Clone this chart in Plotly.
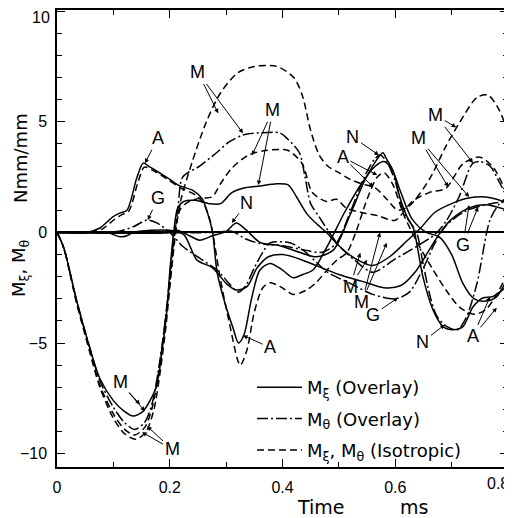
import plotly.graph_objects as go

# ---------------- data (time in ms, moment in Nmm/mm) ----------------
M_sol_t = [0, 0.012, 0.035, 0.058, 0.076, 0.1, 0.12, 0.135, 0.152, 0.165, 0.177, 0.188, 0.195, 0.2, 0.207,
           0.214, 0.225, 0.245, 0.27, 0.29, 0.31, 0.33, 0.36, 0.39, 0.41, 0.425, 0.443, 0.46, 0.478, 0.5,
           0.53, 0.56, 0.59, 0.62, 0.645, 0.67, 0.7, 0.73, 0.76, 0.78, 0.8]
M_sol_y = [0, -0.7, -3.1, -5.2, -6.6, -7.6, -8.1, -8.3, -8.1, -7.6, -6.9, -5.0, -3.5, -1.8, 0,
           1.1, 1.4, 1.45, 1.3, 1.3, 1.8, 2.0, 2.1, 2.2, 2.15, 1.6, 0.85, 0.4, 0, -0.6,
           -1.2, -1.5, -1.1, -0.4, 0.2, 0.9, 1.3, 1.55, 1.6, 1.5, 1.3]

M_dd_t = [0, 0.012, 0.035, 0.058, 0.076, 0.1, 0.12, 0.138, 0.155, 0.168, 0.18, 0.19, 0.197, 0.203, 0.209,
          0.215, 0.223, 0.253, 0.283, 0.306, 0.33, 0.36, 0.395, 0.41, 0.43, 0.44, 0.45, 0.465, 0.483, 0.5,
          0.53, 0.56, 0.6, 0.64, 0.67, 0.69, 0.713, 0.737, 0.75, 0.768, 0.786, 0.8]
M_dd_y = [0, -0.7, -3.1, -5.2, -6.7, -7.9, -8.6, -8.9, -8.6, -7.8, -6.2, -4.4, -2.8, -1.2, 0,
          1.2, 2.5, 3.0, 3.6, 4.1, 4.4, 4.5, 4.5, 4.2, 3.6, 2.5, 1.3, 0.7, 0, -0.6,
          -1.3, -1.8, -1.2, -0.6, -0.1, 0.5, 1.6, 3.1, 3.2, 3.0, 2.2, 1.5]

M_iso1_t = [0, 0.012, 0.035, 0.058, 0.076, 0.1, 0.12, 0.14, 0.158, 0.172, 0.183, 0.193, 0.2, 0.206, 0.212,
            0.22, 0.24, 0.265, 0.29, 0.32, 0.35, 0.39, 0.42, 0.435, 0.45, 0.465, 0.48, 0.5, 0.52, 0.54,
            0.565, 0.585, 0.605, 0.625, 0.645, 0.665, 0.69, 0.715, 0.745, 0.765, 0.785, 0.8]
M_iso1_y = [0, -0.7, -3.2, -5.4, -7.0, -8.4, -9.1, -9.35, -9.0, -8.0, -6.3, -4.3, -2.5, -1.0, 0.3,
            1.5, 3.2, 5.0, 6.3, 7.2, 7.5, 7.5, 7.0, 6.2, 4.6, 3.5, 3.0, 2.7, 2.4, 2.2,
            2.0, 1.5, 1.0, 1.2, 1.8, 2.6, 3.9, 5.0, 6.1, 6.2, 5.5, 4.5]

M_iso2_t = [0, 0.012, 0.035, 0.058, 0.076, 0.1, 0.12, 0.138, 0.156, 0.17, 0.182, 0.192, 0.2, 0.206, 0.212,
            0.22, 0.235, 0.255, 0.275, 0.29, 0.31, 0.34, 0.37, 0.41, 0.435, 0.453, 0.478, 0.496, 0.513, 0.54,
            0.57, 0.6, 0.63, 0.66, 0.69, 0.72, 0.75, 0.775, 0.8]
M_iso2_y = [0, -0.7, -3.2, -5.3, -6.9, -8.2, -8.9, -9.15, -8.8, -7.8, -6.0, -4.0, -2.3, -0.8, 0.5,
            1.1, 1.4, 1.55, 1.6, 2.2, 2.9, 3.5, 3.7, 3.7, 3.1, 1.8, 1.4, 1.5, 1.1, 0.9,
            0.75, 0.55, 1.4, 1.8, 2.0, 3.1, 3.4, 2.9, 1.6]

A_sol_t = [0, 0.053, 0.076, 0.099, 0.112, 0.124, 0.142, 0.153, 0.165, 0.183, 0.2, 0.218, 0.241, 0.258, 0.268,
           0.276, 0.284, 0.298, 0.312, 0.322, 0.332, 0.345, 0.36, 0.378, 0.4, 0.419, 0.436, 0.454, 0.48, 0.51,
           0.54, 0.565, 0.58, 0.595, 0.61, 0.63, 0.655, 0.678, 0.7, 0.72, 0.74, 0.76, 0.78, 0.8]
A_sol_y = [0, 0, 0.2, 0.7, 0.88, 1.0, 2.5, 3.13, 2.95, 2.68, 2.4, 2.1, 1.9, 1.5, 0.8,
           0, -1.8, -3.2, -4.3, -5.0, -4.6, -3.0, -1.7, -1.4, -1.7, -2.05, -1.9, -1.7, -0.6, 0.9,
           2.2, 3.0, 3.2, 2.8, 1.8, 0.6, 0.0, -0.2, -1.0, -2.3, -3.0, -3.1, -2.9, -2.0]

A_iso_t = [0, 0.055, 0.08, 0.1, 0.115, 0.127, 0.144, 0.155, 0.17, 0.19, 0.22, 0.245, 0.26, 0.272, 0.28,
           0.289, 0.305, 0.325, 0.337, 0.35, 0.365, 0.378, 0.396, 0.419, 0.443, 0.461, 0.479, 0.497, 0.514, 0.53,
           0.55, 0.568, 0.58, 0.595, 0.615, 0.64, 0.665, 0.69, 0.715, 0.74, 0.76, 0.78, 0.8]
A_iso_y = [0, 0, 0.15, 0.55, 0.8, 0.95, 2.3, 2.95, 2.8, 2.5, 2.0, 1.7, 1.3, 0.5, -0.6,
           -2.0, -4.0, -6.0, -5.3, -3.6, -2.5, -2.27, -2.45, -2.8, -2.6, -2.23, -1.7, -1.24, -0.92, 0,
           1.5, 2.5, 2.7, 2.2, 0.8, -0.5, -1.6, -2.6, -3.4, -3.7, -3.5, -2.8, -1.8]

G_dd_t = [0, 0.07, 0.09, 0.11, 0.135, 0.16, 0.177, 0.2, 0.224, 0.255, 0.284, 0.305, 0.322, 0.335, 0.35,
          0.365, 0.378, 0.413, 0.436, 0.461, 0.48, 0.52, 0.56, 0.6, 0.625, 0.65, 0.67, 0.69, 0.72, 0.745,
          0.77, 0.8]
G_dd_y = [0, 0, 0, 0.05, 0.25, 0.56, 0.43, 0, -0.65, -1.2, -1.7, -2.3, -2.7, -2.4, -1.6,
          -0.9, -0.47, -0.47, -0.79, -1.37, -1.8, -2.3, -2.8, -3.0, -2.7, -1.6, -0.5, 0.3, 0.9, 1.15,
          1.3, 1.4]

G_sol_t = [0, 0.09, 0.1, 0.112, 0.124, 0.135, 0.2, 0.225, 0.248, 0.276, 0.3, 0.318, 0.337, 0.355, 0.375,
           0.4, 0.43, 0.46, 0.5, 0.54, 0.58, 0.61, 0.635, 0.66, 0.68, 0.7, 0.73, 0.76, 0.8]
G_sol_y = [0, 0, -0.1, -0.2, -0.15, 0, 0.1, -0.1, -1.24, -1.6, -2.3, -2.6, -2.45, -1.6, -1.1,
           -1.0, -1.2, -1.5, -1.9, -2.2, -2.5, -2.4, -1.8, -0.8, 0, 0.6, 1.1, 1.25, 1.0]

N_sol_t = [0, 0.2, 0.213, 0.235, 0.253, 0.276, 0.3, 0.318, 0.336, 0.36, 0.395, 0.43, 0.46, 0.49, 0.52,
           0.545, 0.565, 0.578, 0.585, 0.596, 0.608, 0.621, 0.632, 0.649, 0.667, 0.685, 0.702, 0.72, 0.738, 0.756,
           0.773, 0.8]
N_sol_y = [0, 0, 0.1, -0.15, -0.35, -0.15, 0.05, 0.42, 0.1, -0.45, -0.6, -0.9, -1.1, -0.8, 0.8,
           2.3, 3.2, 3.6, 3.3, 2.8, 1.6, 0.7, 0.2, -2.0, -3.5, -4.26, -4.4, -4.26, -3.36, -2.95,
           -2.9, -2.4]

N_dd_t = [0, 0.28, 0.31, 0.335, 0.36, 0.4, 0.44, 0.47, 0.495, 0.52, 0.545, 0.563, 0.573, 0.585, 0.6,
          0.615, 0.638, 0.649, 0.662, 0.674, 0.692, 0.71, 0.725, 0.745, 0.768, 0.785, 0.8]
N_dd_y = [0, 0, 0.05, -0.3, -0.5, -0.6, -0.8, -0.9, -0.5, 0.9, 2.5, 3.3, 3.5, 3.2, 2.3,
          0.9, -0.02, -1.37, -2.9, -3.8, -4.26, -4.4, -3.9, -2.3, 0.56, 1.3, 1.6]

# (name, t, y, style)
curves = [
    ("M_sol", M_sol_t, M_sol_y, "solid"),
    ("A_sol", A_sol_t, A_sol_y, "solid"),
    ("G_sol", G_sol_t, G_sol_y, "solid"),
    ("N_sol", N_sol_t, N_sol_y, "solid"),
    ("M_dd", M_dd_t, M_dd_y, "dashdot"),
    ("G_dd", G_dd_t, G_dd_y, "dashdot"),
    ("N_dd", N_dd_t, N_dd_y, "dashdot"),
    ("M_iso1", M_iso1_t, M_iso1_y, "dash"),
    ("M_iso2", M_iso2_t, M_iso2_y, "dash"),
    ("A_iso", A_iso_t, A_iso_y, "dash"),
]

legend_names = ["M<sub>ξ</sub> (Overlay)", "M<sub>θ</sub> (Overlay)", "M<sub>ξ</sub>, M<sub>θ</sub> (Isotropic)"]
legend_styles = ["solid", "dashdot", "dash"]

x_ticks = [0, 0.2, 0.4, 0.6, 0.8]
x_ticklabels = ["0", "0.2", "0.4", "0.6", "0.8"]
y_ticks = [-10, -5, 0, 5, 10]
y_ticklabels = ["−10", "−5", "0", "5", "10"]

# labels: (text, text_x, text_y, [arrow heads])
labels = [
    ("A", 0.179, 4.26, [(0.156, 3.13)]),
    ("G", 0.179, 1.55, [(0.161, 0.56)]),
    ("M", 0.25, 7.23, [(0.286, 5.38), (0.33, 4.48)]),
    ("M", 0.383, 5.52, [(0.346, 3.49), (0.357, 2.14)]),
    ("N", 0.337, 1.33, [(0.31, 0.43)]),
    ("M", 0.112, -6.78, [(0.147, -7.77), (0.156, -8.08)]),
    ("M", 0.204, -9.8, [(0.16, -8.76), (0.151, -9.03)]),
    ("A", 0.378, -5.2, [(0.33, -4.66)]),
    ("N", 0.525, 4.3, [(0.571, 3.49)]),
    ("A", 0.507, 3.4, [(0.568, 2.59), (0.561, 2.05)]),
    ("M", 0.672, 5.29, [(0.708, 4.75), (0.738, 3.13)]),
    ("M", 0.642, 4.26, [(0.694, 2.05), (0.731, 1.6)]),
    ("G", 0.72, -0.56, [(0.747, 1.15), (0.731, 1.24)]),
    ("M", 0.52, -2.45, [(0.55, -1.24), (0.538, -0.92)]),
    ("M", 0.541, -3.13, [(0.573, 0.0), (0.585, -0.47)]),
    ("G", 0.561, -3.72, [(0.605, -2.95)]),
    ("N", 0.649, -4.93, [(0.688, -4.17)]),
    ("A", 0.738, -4.7, [(0.768, -2.9), (0.78, -3.4)]),
]

# ---------------- styling ----------------
FONT = "Liberation Sans"
FONT2 = "DejaVu Sans"
DASH = {"solid": "solid", "dashdot": "11px,3px,2px,3px", "dash": "7px,4px"}

# page has an 8px body margin; figure is sized so it fits the 512x518 window
OFF = 8
FW, FH = 512 - OFF, 518 - OFF
PL, PT, PW, PH = 57 - OFF, 10 - OFF, 451, 457   # plot area in figure pixels

fig = go.Figure()
for name, t, y, st in curves:
    fig.add_trace(go.Scatter(x=t, y=y, mode="lines", name=name, showlegend=False,
                             line=dict(color="black", width=1.5, dash=DASH[st],
                                       shape="spline", smoothing=0.8),
                             hoverinfo="skip"))

for i, (nm, st) in enumerate(zip(legend_names, legend_styles)):
    fig.add_trace(go.Scatter(x=[None], y=[None], mode="lines", name=nm, legendgroup=str(i),
                             line=dict(color="black", width=1.5, dash=DASH[st])))

ann = []
for text, tx, ty, heads in labels:
    for k, (hx, hy) in enumerate(heads):
        ann.append(dict(x=hx, y=hy, ax=tx, ay=ty, axref="x", ayref="y", xref="x", yref="y",
                        text=text, showarrow=True, arrowhead=2, arrowsize=0.9, arrowwidth=1,
                        arrowcolor="black", standoff=0,
                        font=dict(family=FONT, size=18,
                                  color="black" if k == 0 else "rgba(0,0,0,0)")))


def px(xp):   # page x pixel -> paper fraction
    return (xp - OFF - PL) / PW


def py(yp):   # page y pixel -> paper fraction
    return (PT + PH - (yp - OFF)) / PH


title_common = dict(xref="paper", yref="paper", showarrow=False, xanchor="center", yanchor="middle")
ann.append(dict(x=px(20), y=py(268), text="M<sub>ξ</sub>, M<sub>θ</sub>", textangle=-90,
                font=dict(family=FONT2, size=18, color="black"), **title_common))
ann.append(dict(x=px(20), y=py(158), text="Nmm/mm", textangle=-90,
                font=dict(family=FONT2, size=18, color="black"), **title_common))
ann.append(dict(x=px(321), y=py(507), text="Time",
                font=dict(family=FONT2, size=19, color="black"), **title_common))
ann.append(dict(x=px(414), y=py(507), text="ms",
                font=dict(family=FONT2, size=19, color="black"), **title_common))

# the top y tick label sits a little below its tick (it would otherwise leave the page)
y_ticktext = y_ticklabels[:-1] + [""]
ann.append(dict(xref="paper", yref="y", x=0, y=y_ticks[-1], xanchor="right", yanchor="middle",
                xshift=-5, yshift=-6, text=y_ticklabels[-1], showarrow=False,
                font=dict(family=FONT, size=16, color="black")))
# the last x tick label is pulled slightly left so it stays on the page
x_ticktext = x_ticklabels[:-1] + [""]
ann.append(dict(xref="x", yref="paper", x=x_ticks[-1], y=0, xanchor="right", yanchor="top",
                xshift=3, yshift=-6, text=x_ticklabels[-1], showarrow=False,
                font=dict(family=FONT, size=16, color="black")))

axis_common = dict(showline=True, linecolor="black", linewidth=1.5, mirror="ticks",
                   ticks="inside", ticklen=8, tickwidth=1.2, tickcolor="black",
                   showgrid=False, tickfont=dict(family=FONT, size=16, color="black"),
                   ticklabelstandoff=5, automargin=False, ticklabeloverflow="allow")

fig.update_layout(
    width=FW, height=FH,
    margin=dict(l=PL, r=FW - PL - PW, t=PT, b=FH - PT - PH, autoexpand=False),
    paper_bgcolor="white", plot_bgcolor="white",
    annotations=ann,
    legend=dict(x=px(252), y=py(369), xanchor="left", yanchor="top", itemwidth=45,
                bgcolor="rgba(0,0,0,0)", traceorder="grouped", tracegroupgap=5,
                font=dict(family=FONT2, size=18, color="black")),
    xaxis=dict(range=[0, 0.8], tickvals=x_ticks, ticktext=x_ticktext,
               minor=dict(dtick=0.1, ticks="inside", ticklen=5, tickcolor="black"),
               zeroline=False, **axis_common),
    yaxis=dict(range=[-10.6, 10.05], tickvals=y_ticks, ticktext=y_ticktext,
               minor=dict(dtick=1, ticks="inside", ticklen=5, tickcolor="black"),
               zeroline=True, zerolinecolor="black", zerolinewidth=1.5, **axis_common),
)

fig.write_html("out.html")
